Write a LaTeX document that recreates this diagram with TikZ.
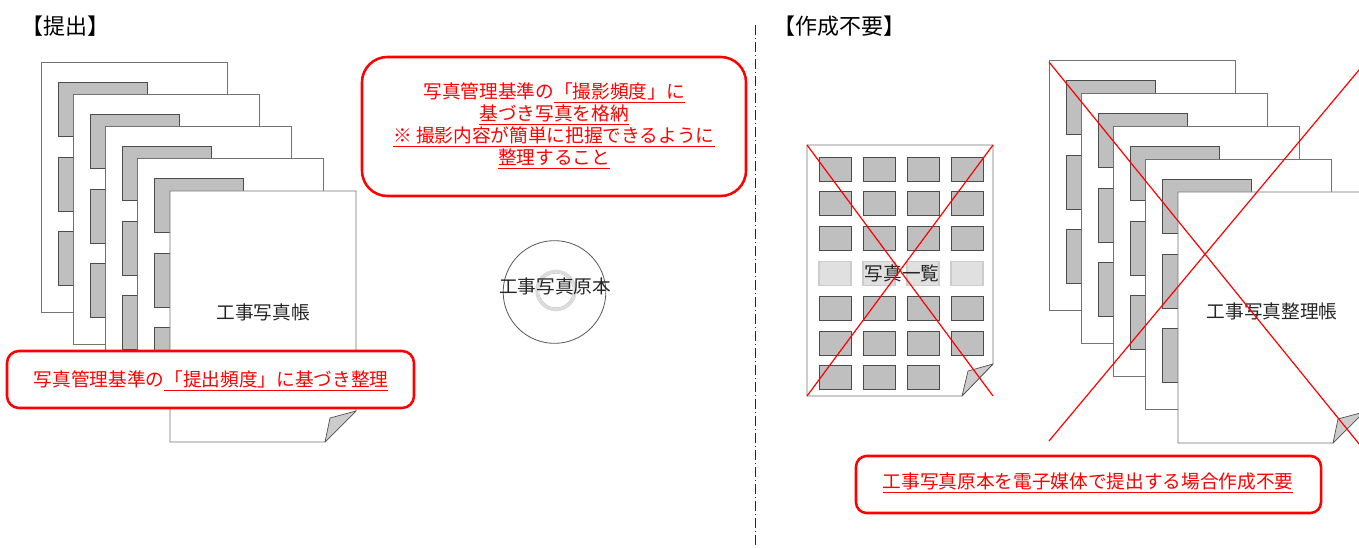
\documentclass[tikz,border=0pt]{standalone}
\usepackage{fontspec}
\setmainfont{Noto Sans CJK JP}

% underline drawn as a rule below the text box
\newcommand\redline[1]{\begingroup\setbox0\hbox{#1}\rlap{\rule[-3.4pt]{\wd0}{0.9pt}}\box0\endgroup}

% a sheet in the back of a stack, with three photo frames on its left side
\newcommand\backsheet[2]{%
  \begin{scope}[shift={(#1,#2)}]
    \draw[sheet] (0,0) rectangle (186,250);
    \draw[photo] (17,20) rectangle (106,74);
    \draw[photo] (17,95) rectangle (106,149);
    \draw[photo] (17,169) rectangle (106,223);
  \end{scope}}
% the front sheet of a stack, with a folded lower right corner
\newcommand\frontsheet[2]{%
  \begin{scope}[shift={(#1,#2)}]
    \draw[sheet] (0,0) -- (186,0) -- (186,220) -- (155,251) -- (0,251) -- cycle;
    \draw[fold] (155,251) -- (160,227) -- (186,220) -- cycle;
  \end{scope}}

\begin{document}
\begin{tikzpicture}[x=0.75pt,y=-0.75pt,
  sheet/.style={draw=black!55, fill=white, line width=0.6pt},
  photo/.style={draw=black!70, fill=black!25, line width=0.6pt},
  photolight/.style={draw=black!20, fill=black!12, line width=0.8pt},
  fold/.style={draw=black!70, fill=black!20, line width=0.5pt, line join=round},
  notebox/.style={draw=red, fill=white, line width=1.9pt},
  notetext/.style={text=red, font=\fontsize{14}{16.5}\selectfont, align=center, inner sep=0pt},
  inktext/.style={text=black!85, font=\fontsize{14}{16.5}\selectfont, inner sep=0pt},
  heading/.style={text=black, font=\fontsize{16.5}{19}\selectfont, inner sep=0pt, anchor=west},
  crossout/.style={draw=red, line width=0.9pt},
  divider/.style={draw=black!85, line width=0.7pt, dash pattern=on 7.5pt off 2.25pt on 0.75pt off 2.25pt},
]
\useasboundingbox[fill=white] (0,0) rectangle (1359,548);

% ---------- left: submitted ----------
\node[heading] (titleL) at (21.5,26) {【提出】};

\backsheet{41}{62}
\backsheet{73.25}{94.25}
\backsheet{105.5}{126.5}
\backsheet{137.75}{158.75}
\frontsheet{170}{191}
\node[inktext] (album) at (263,312) {工事写真帳};

\draw[notebox, rounded corners=9pt] (7,351) rectangle (414,408);
\node[notetext] (noteL) at (211,381) {写真管理基準の\redline{「提出頻度」に基づき整理}};

\draw[notebox, rounded corners=19pt] (362,57) rectangle (746,196);
\node[notetext] (noteC) at (554,126) {写真管理基準の\redline{「撮影頻度」に}\\
  \redline{基づき写真を格納}\\
  \redline{※ 撮影内容が簡単に把握できるように}\\
  \redline{整理すること}};

% disc with the original photo files
\node[draw=black!65, line width=0.6pt, circle, minimum size=77pt, inner sep=0pt] (disc) at (554.5,292) {};
\draw[black!14, line width=2.2pt] (556,290.5) circle[radius=14.5pt];
\draw[black!25, line width=0.4pt] (556,290.5) circle[radius=12.9pt];
\node[inktext] (discL) at (555,286) {工事写真原本};

% ---------- divider ----------
\coordinate (divtop) at (755.5,25);
\coordinate (divbot) at (755.5,548);
\draw[divider] (divtop) -- (divbot);

% ---------- right: not required ----------
\node[heading] (titleR) at (773,26) {【作成不要】};

% photo list sheet
\begin{scope}[shift={(807,145)}]
  \draw[sheet] (0,0) -- (186,0) -- (186,219) -- (155,251) -- (0,251) -- cycle;
\end{scope}
\foreach \r in {0,1,2,4,5}{
  \foreach \c in {0,...,3}{
    \draw[photo] ({819+44*\c},{157+34.8*\r}) rectangle ++(32,24);
  }
}
\foreach \c in {0,1,2}{
  \draw[photo] ({819+44*\c},{157+34.8*6}) rectangle ++(32,24);
}
\foreach \c in {0,...,3}{
  \draw[photolight] ({819+44*\c},{157+34.8*3}) rectangle ++(32,24);
}
\draw[fold] (962,396) -- (968,371) -- (993,364) -- cycle;
\node[inktext] (listL) at (902,273) {写真一覧};
\draw[crossout] (807,145) -- (993,396);
\draw[crossout] (993,145) -- (807,396);

% photo arrangement book stack
\backsheet{1049}{60}
\backsheet{1081.25}{93}
\backsheet{1113.5}{126}
\backsheet{1145.75}{159}
\frontsheet{1178}{192}
\node[inktext] (arrange) at (1272,311) {工事写真整理帳};
\draw[crossout] (1049,62) -- (1364,450);
\draw[crossout] (1049,441) -- (1364,64);

\draw[notebox, rounded corners=8pt] (856,456) rectangle (1321,513);
\node[notetext] (noteR) at (1088,483) {\redline{工事写真原本を電子媒体で提出する場合作成不要}};
\end{tikzpicture}
\end{document}
